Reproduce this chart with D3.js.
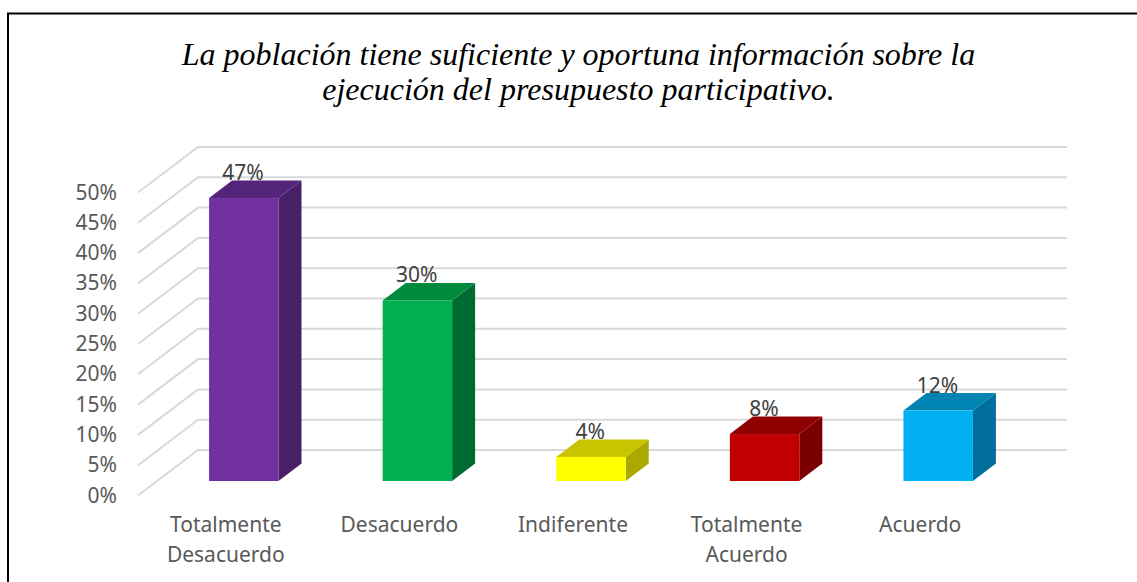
<!DOCTYPE html>
<html><head><meta charset="utf-8">
<script src="https://cdn.jsdelivr.net/npm/d3@7/dist/d3.min.js"></script>
<style>html,body{margin:0;padding:0;background:#fff}svg{display:block}</style></head>
<body><svg id="c" width="1137" height="582"></svg>
<script>
const titleLines = ["La población tiene suficiente y oportuna información sobre la","ejecución del presupuesto participativo."];
const categories = [["Totalmente","Desacuerdo"],["Desacuerdo"],["Indiferente"],["Totalmente","Acuerdo"],["Acuerdo"]];
const values = [47,30,4,7.8,11.7];
const valueLabels = ["47%","30%","4%","8%","12%"];
const frontColors = ["#7030A0","#00B050","#FFFF00","#C00000","#00B0F0"];
const topColors = ["#54247A","#008A3E","#C8C400","#900000","#0084B4"];
const sideColors = ["#482068","#006B30","#ADA800","#7A0000","#006F9B"];
const ticks = [0,5,10,15,20,25,30,35,40,45,50];

const svg = d3.select("#c");
svg.append("path").attr("d","M8,582V13.5H1137").attr("fill","none").attr("stroke","#000").attr("stroke-width",2);

const title = svg.append("text").attr("text-anchor","middle")
  .attr("font-family","'Liberation Serif'").attr("font-style","italic").attr("font-size",32).attr("fill","#000");
titleLines.forEach((t,i)=>title.append("tspan").attr("x",578.5).attr("y",65+i*35).text(t));

const wallDx = 60, wallDy = -45.5, barDx = 23, barDy = -17.5;
const yFront = d3.scaleLinear().domain([0,50]).range([495.5,192.5]);
const x = d3.scaleBand().domain(d3.range(5)).range([157,1025]).paddingInner(0.6).paddingOuter(0.3);
const barBase = 481, barScale = d3.scaleLinear().domain([0,50]).range([0,301]);

const grid = svg.append("g").attr("fill","none").attr("stroke","#D9D9D9").attr("stroke-width",2);
ticks.forEach(t=>{
  const p = d3.path(); const y0 = yFront(t);
  p.moveTo(138,y0); p.lineTo(138+wallDx,y0+wallDy); p.lineTo(1067,y0+wallDy);
  grid.append("path").attr("d",p.toString());
});

const axisFont = "'Noto Sans'";
svg.append("g").selectAll("text").data(ticks).join("text")
  .attr("x",117).attr("y",d=>yFront(d)+7).attr("text-anchor","end")
  .attr("font-family",axisFont).attr("font-size",21).attr("fill","#595959").text(d=>d+"%");

const bars = svg.append("g").selectAll("g").data(values).join("g");
const poly = pts => pts.map(p=>p.join(",")).join(" ");
bars.each(function(v,i){
  const g = d3.select(this), l = x(i), r = l + x.bandwidth(), b = barBase, t = barBase - barScale(v);
  g.append("polygon").attr("points",poly([[r,t],[r+barDx,t+barDy],[r+barDx,b+barDy],[r,b]])).attr("fill",sideColors[i]);
  g.append("text").attr("x",l+34).attr("y",t-18).attr("text-anchor","middle")
    .attr("font-family",axisFont).attr("font-size",21).attr("fill","#404040").text(valueLabels[i]);
  g.append("polygon").attr("points",poly([[l,t],[l+barDx,t+barDy],[r+barDx,t+barDy],[r,t]])).attr("fill",topColors[i]);
  g.append("rect").attr("x",l).attr("y",t).attr("width",r-l).attr("height",b-t).attr("fill",frontColors[i]);
});

categories.forEach((lines,i)=>{
  const t = svg.append("text").attr("text-anchor","middle").attr("font-family",axisFont)
    .attr("font-size",21).attr("fill","#595959");
  lines.forEach((s,j)=>t.append("tspan").attr("x",x(i)+x.bandwidth()/2-18).attr("y",532+j*30).text(s));
});
</script></body></html>
